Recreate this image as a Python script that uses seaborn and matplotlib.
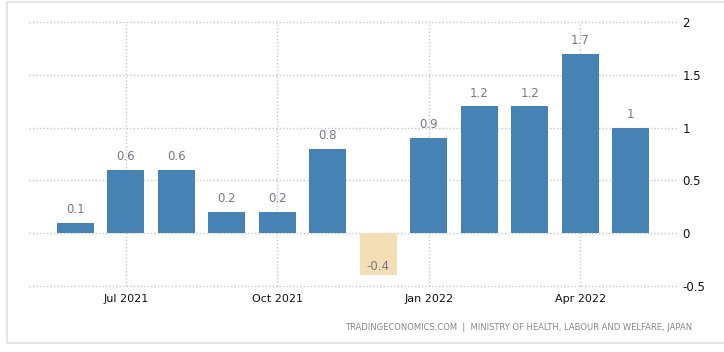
import numpy as np
import pandas as pd
import seaborn as sns
import matplotlib.pyplot as plt
from matplotlib.patches import Rectangle

# monthly change, Jun 2021 - May 2022
months = ["Jun 2021", "Jul 2021", "Aug 2021", "Sep 2021", "Oct 2021", "Nov 2021",
          "Dec 2021", "Jan 2022", "Feb 2022", "Mar 2022", "Apr 2022", "May 2022"]
values = [0.1, 0.6, 0.6, 0.2, 0.2, 0.8, -0.4, 0.9, 1.2, 1.2, 1.7, 1.0]
tick_months = ["Jul 2021", "Oct 2021", "Jan 2022", "Apr 2022"]
tick_labels = ["Jul 2021", "Oct 2021", "Jan 2022", "Apr 2022"]
y_ticks = [-0.5, 0, 0.5, 1, 1.5, 2]
y_labels = ["-0.5", "0", "0.5", "1", "1.5", "2"]
source = "TRADINGECONOMICS.COM  |  MINISTRY OF HEALTH, LABOUR AND WELFARE, JAPAN"

df = pd.DataFrame({"month": months, "value": values})
colors = {m: ("#4682b4" if v >= 0 else "#f3deb5") for m, v in zip(months, values)}

sns.set_style("white")
plt.rcParams["font.family"] = ["DejaVu Sans"]

fig = plt.figure(figsize=(7.24, 3.52), dpi=100)
ax = fig.add_axes([29 / 724, 1 - 286 / 352, 648 / 724, 264 / 352])

sns.barplot(data=df, x="month", y="value", hue="month", palette=colors,
            legend=False, width=0.73, saturation=1, linewidth=0, ax=ax, zorder=3)

ax.set_xlim(-0.92, 11.92)
ax.set_ylim(-0.5, 2)

# grid
for y in y_ticks:
    ax.axhline(y, color="#c8c8c8", lw=1, ls=(0, (1, 1.5)), zorder=1, clip_on=False)
tick_pos = [months.index(m) for m in tick_months]
for x in tick_pos:
    ax.axvline(x, color="#c8c8c8", lw=1, ls=(0, (1, 1.5)), zorder=1, clip_on=False)

ax.set_xticks(tick_pos)
ax.set_xticklabels(tick_labels, fontsize=8, color="#111111")
ax.set_yticks(y_ticks)
ax.set_yticklabels(y_labels, fontsize=8.5, color="#111111")
ax.yaxis.tick_right()
ax.tick_params(axis="both", length=0)
ax.tick_params(axis="x", pad=6)
ax.tick_params(axis="y", pad=4)
ax.set_xlabel("")
ax.set_ylabel("")
for s in ax.spines.values():
    s.set_visible(False)

# value labels
for i, v in enumerate(values):
    lab = f"{v:g}"
    if v >= 0:
        ax.annotate(lab, (i, v), xytext=(0, 5), textcoords="offset points",
                    ha="center", va="bottom", fontsize=8.5, color="#77778a", zorder=4)
    else:
        ax.annotate(lab, (i, v), xytext=(0, 1.5), textcoords="offset points",
                    ha="center", va="bottom", fontsize=8.5, color="#77778a", zorder=4)

fig.text(692 / 724, 1 - 328 / 352, source, ha="right", va="center",
         fontsize=6, color="#888888")

# light frame around the chart
fig.patches.append(Rectangle((7 / 724, 1 - 343 / 352), 720 / 724, 341 / 352,
                             transform=fig.transFigure, fill=False,
                             edgecolor="#e4e4e4", lw=1.5))

fig.savefig("out.png", dpi=100)
